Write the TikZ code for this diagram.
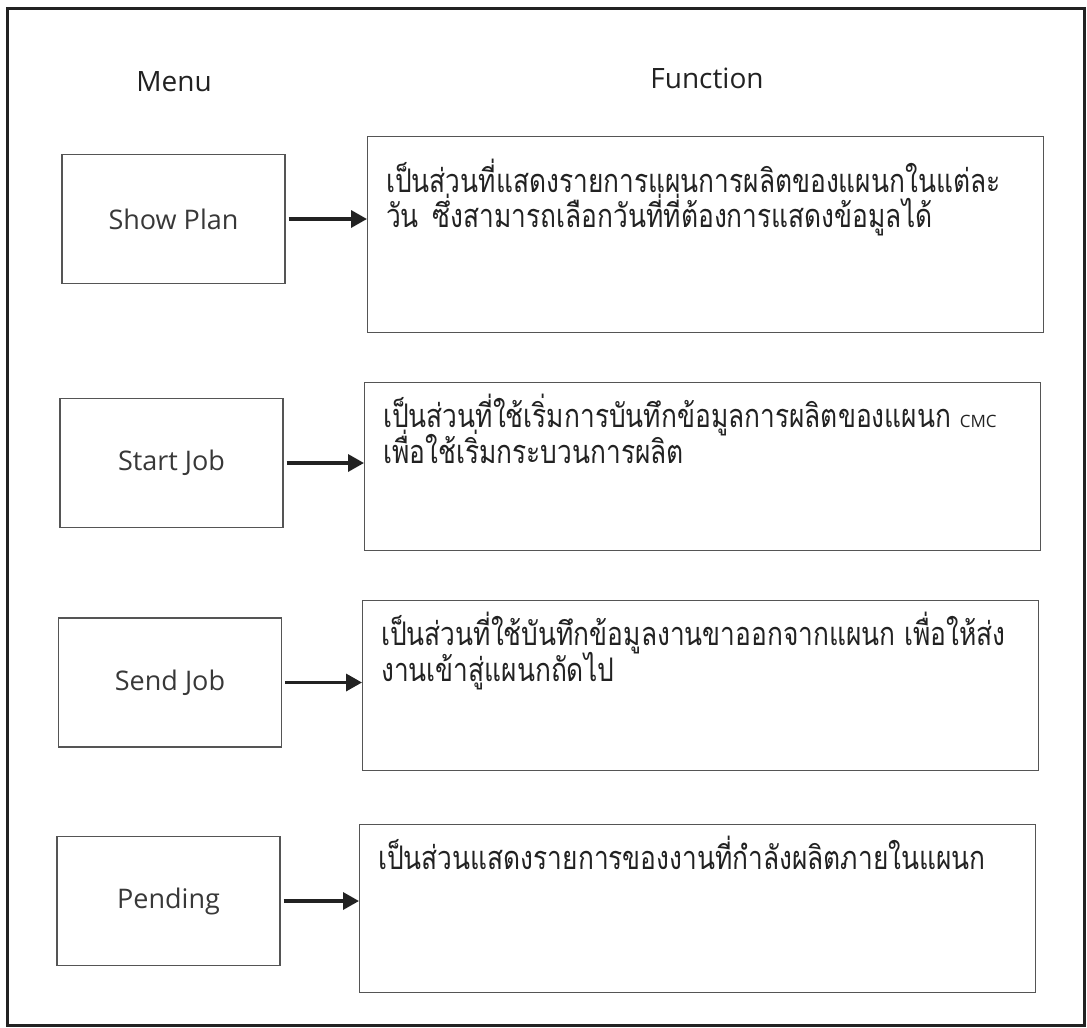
\documentclass[tikz,border=0pt]{standalone}
\usepackage{fontspec}
\setmainfont{Open Sans}
\newfontfamily\thaifont[Script=Thai,FakeStretch=0.81]{Loma}
\usetikzlibrary{arrows.meta}
\definecolor{ink}{HTML}{222222}
\definecolor{boxline}{HTML}{555555}
\begin{document}
\begin{tikzpicture}[x=1pt,y=-1pt,
  menubox/.style={draw=boxline, line width=1.2pt, minimum width=223pt,
    minimum height=129pt, inner sep=0pt, text=ink!90,
    font=\fontsize{27}{32}\selectfont},
  funcbox/.style={draw=boxline, line width=1.2pt, inner sep=0pt,
    minimum width=676pt, anchor=north west},
  desc/.style={anchor=base west, inner sep=0pt, text=ink,
    font=\thaifont\fontsize{32.5}{36}\selectfont},
  heading/.style={text=ink, font=\fontsize{28}{34}\selectfont},
  arr/.style={line width=3.4pt, draw=ink, -{Triangle[length=16pt,width=17pt]}}]

\useasboundingbox (0,0) rectangle (1087,1028);
% outer frame
\draw[line width=3pt, draw=ink] (7,8) rectangle (1084,1025);

% column headings
\node[heading] (hmenu) at (174,82) {Menu};
\node[heading] (hfunc) at (707,78) {Function};

% menu entries
\node[menubox] (m1) at (173.5,219) {Show Plan};
\node[menubox] (m2) at (171.5,463) {Start Job};
\node[menubox] (m3) at (170,682.5) {Send Job};
\node[menubox] (m4) at (168.5,901) {Pending};

% function descriptions
\node[funcbox, minimum height=196pt] (f1) at (367,136) {};
\node[funcbox, minimum height=168pt] (f2) at (364,382) {};
\node[funcbox, minimum height=170pt] (f3) at (362,600) {};
\node[funcbox, minimum height=168pt] (f4) at (359,824) {};

\node[desc] (d1a) at (386,192) {เป็นส่วนที่แสดงรายการแผนการผลิตของแผนกในแต่ละ};
\node[desc] (d1b) at (386,227) {วัน\hspace{14pt}ซึ่งสามารถเลือกวันที่ที่ต้องการแสดงข้อมูลได้};
\node[desc] (d2a) at (383,427) {เป็นส่วนที่ใช้เริ่มการบันทึกข้อมูลการผลิตของแผนก {\fontspec{Open Sans}\fontsize{17}{20}\selectfont CMC}};
\node[desc] (d2b) at (383,463) {เพื่อใช้เริ่มกระบวนการผลิต};
\node[desc] (d3a) at (381,645) {เป็นส่วนที่ใช้บันทึกข้อมูลงานขาออกจากแผนก เพื่อให้ส่ง};
\node[desc] (d3b) at (381,681) {งานเข้าสู่แผนกถัดไป};
\node[desc] (d4a) at (378,869) {เป็นส่วนแสดงรายการของงานที่กำลังผลิตภายในแผนก};

% connectors
\foreach \m/\f in {m1/f1, m2/f2, m3/f3, m4/f4}
  \draw[arr] ([xshift=3pt]\m.east) -- (\m.east -| \f.west);
\end{tikzpicture}
\end{document}
